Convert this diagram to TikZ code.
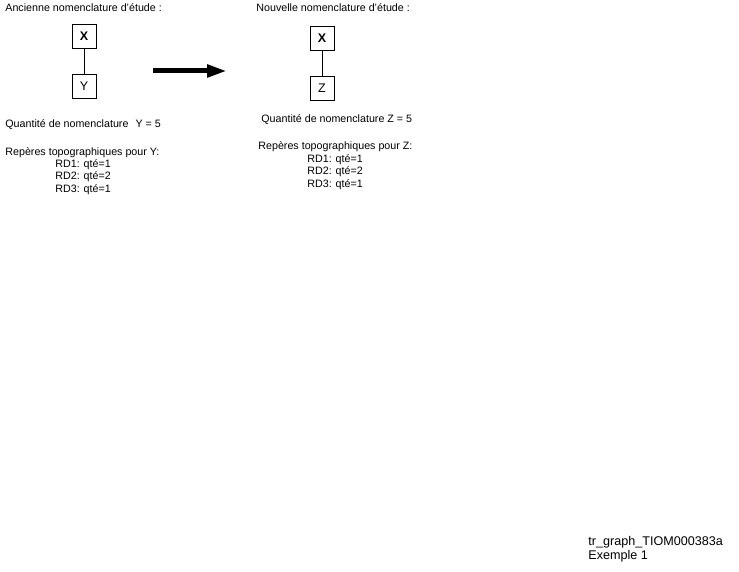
\documentclass[tikz,border=0pt]{standalone}
\usepackage{fontspec}
\setmainfont{Liberation Sans}
\usetikzlibrary{arrows.meta}
\tikzset{
  txt/.style={anchor=west,inner sep=0pt},
  bloc/.style={draw,line width=.8pt,minimum size=24pt,inner sep=0pt,font=\fontsize{12.5}{14}\selectfont}
}
\begin{document}
\begin{tikzpicture}[x=1pt,y=-1pt,line width=.8pt,font=\fontsize{10.7}{13}\selectfont]
\useasboundingbox (0,0) rectangle (739,572);
% ancienne nomenclature
\node[txt] (titreA) at (5,8) {Ancienne nomenclature d'étude :};
\node[bloc] (xa) at (84,36) {\bfseries X};
\node[bloc] (ya) at (84,86) {Y};
\draw (xa)--(ya);
\node[txt] (qteA) at (5,125) {Quantité de nomenclature\hspace{7pt}Y = 5};
\node[txt] (repA) at (5,153) {Repères topographiques pour Y:};
\node[txt] (rdA1) at (55,165) {RD1: qté=1};
\node[txt] (rdA2) at (55,177) {RD2: qté=2};
\node[txt] (rdA3) at (55,190) {RD3: qté=1};
% fleche
\coordinate (f1) at (153,71);
\coordinate (f2) at (227,71);
\draw[line width=5pt,-{Triangle[length=20pt,width=12pt]}] (f1)--(f2);
% nouvelle nomenclature
\node[txt] (titreN) at (256,8) {Nouvelle nomenclature d'étude :};
\node[bloc] (xn) at (322,38) {\bfseries X};
\node[bloc] (zn) at (322,88) {Z};
\draw (xn)--(zn);
\node[txt] (qteN) at (261,120) {Quantité de nomenclature Z = 5};
\node[txt] (repN) at (258,147) {Repères topographiques pour Z:};
\node[txt] (rdN1) at (307,160) {RD1: qté=1};
\node[txt] (rdN2) at (307,172) {RD2: qté=2};
\node[txt] (rdN3) at (307,185) {RD3: qté=1};
% reference
\node[txt,font=\fontsize{12.6}{15}\selectfont] (ref) at (588,542) {tr\_graph\_TIOM000383a};
\node[txt,font=\fontsize{12.6}{15}\selectfont] (ex) at (588,556) {Exemple 1};
\end{tikzpicture}
\end{document}
